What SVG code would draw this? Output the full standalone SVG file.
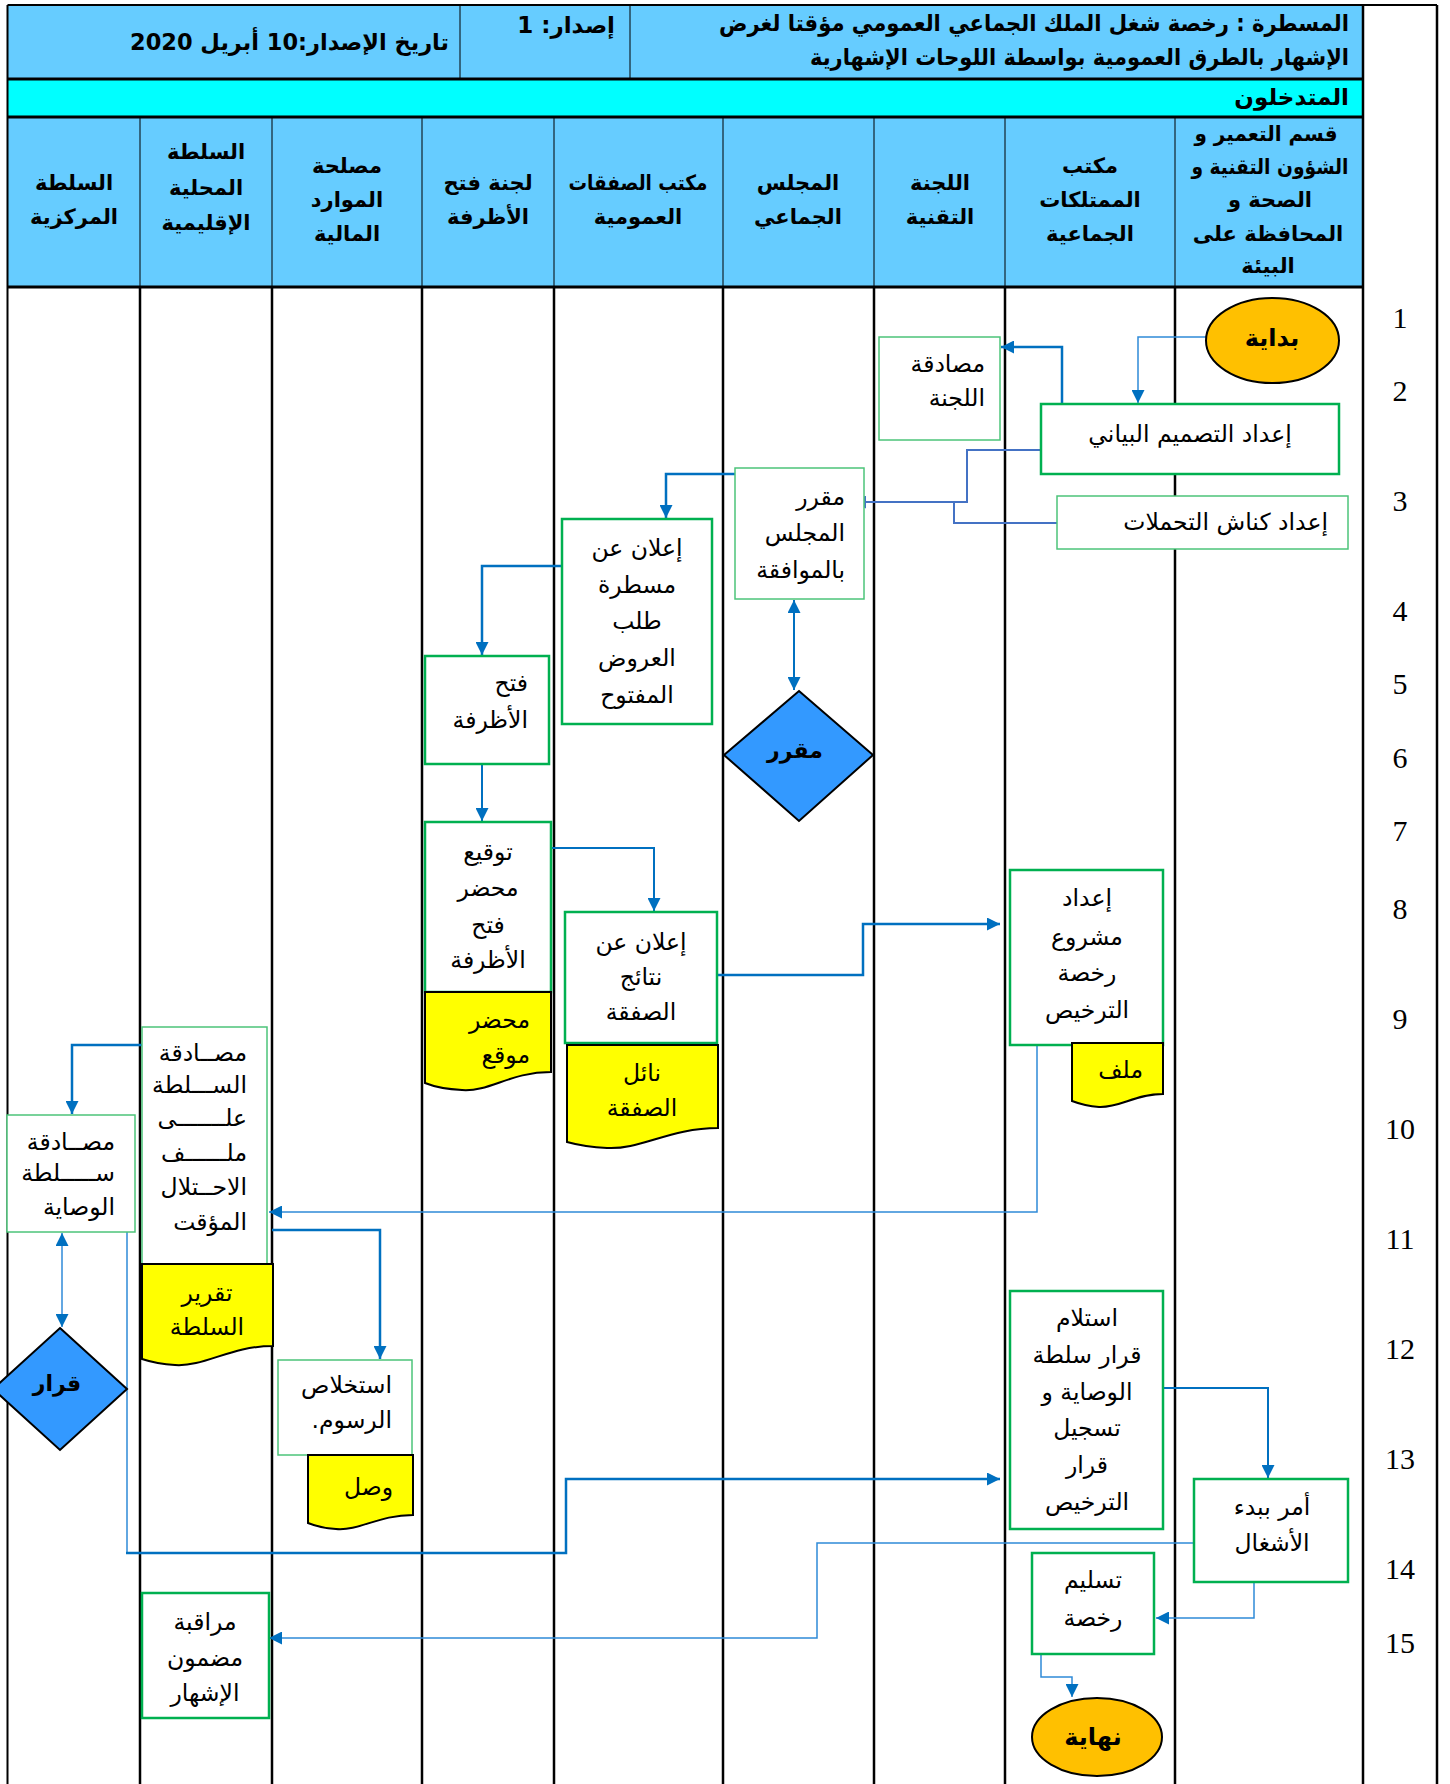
<svg xmlns="http://www.w3.org/2000/svg" width="1450" height="1784" viewBox="0 0 1450 1784">
<defs>
<marker id="ah" viewBox="0 0 10 10" refX="10" refY="5" markerWidth="14" markerHeight="13" markerUnits="userSpaceOnUse" orient="auto-start-reverse"><path d="M0,0 L10,5 L0,10 z" fill="#0070C0"/></marker>
<marker id="ahb" viewBox="0 0 10 10" refX="10" refY="5" markerWidth="14" markerHeight="13" markerUnits="userSpaceOnUse" orient="auto-start-reverse"><path d="M0,0 L10,5 L0,10 z" fill="#4472C4"/></marker>
</defs>
<style>
.ar{font-family:"DejaVu Sans",sans-serif;direction:rtl;dominant-baseline:central;fill:#000}
.hd{font-weight:bold;font-size:21px;text-anchor:middle}
.tx{font-size:23.5px}
.bd{font-weight:bold}
.mid{text-anchor:middle}
.rt{text-anchor:start}
.num{font-family:"Liberation Serif",serif;font-size:30px;text-anchor:middle;dominant-baseline:central}
.bl{stroke:#000;stroke-width:2.5}
.hl{stroke:#000;stroke-width:1}
.bx{fill:#fff;stroke:#00B050;stroke-width:2.5}
.bx2{fill:#fff;stroke:#4CC47A;stroke-width:1.5}
.doc{fill:#FFFF00;stroke:#000;stroke-width:2}
.c{fill:none;stroke:#0070C0;stroke-width:2.5}
.c2{fill:none;stroke:#0070C0;stroke-width:2}
.ct{fill:none;stroke:#2F8AD8;stroke-width:1.5}
.cb{fill:none;stroke:#4472C4;stroke-width:2}
</style>
<rect x="0" y="0" width="1450" height="1784" fill="#fff"/>
<g id="frame">
<rect x="7.5" y="5" width="1355.5" height="74" fill="#66CCFF"/>
<rect x="7.5" y="79" width="1355.5" height="38" fill="#00FFFF"/>
<rect x="7.5" y="117" width="1355.5" height="170" fill="#66CCFF"/>
<line class="bl" x1="7.5" y1="5" x2="1437" y2="5" style="stroke-width:2"/>
<line class="bl" x1="7.5" y1="79" x2="1363" y2="79" style="stroke-width:3"/>
<line class="bl" x1="7.5" y1="117" x2="1363" y2="117" style="stroke-width:3"/>
<line class="bl" x1="7.5" y1="287" x2="1363" y2="287" style="stroke-width:3"/>
<line class="hl" x1="460" y1="5" x2="460" y2="79"/>
<line class="hl" x1="630" y1="5" x2="630" y2="79"/>
<line class="hl" x1="140" y1="117" x2="140" y2="287"/>
<line class="hl" x1="272" y1="117" x2="272" y2="287"/>
<line class="hl" x1="422" y1="117" x2="422" y2="287"/>
<line class="hl" x1="554" y1="117" x2="554" y2="287"/>
<line class="hl" x1="723" y1="117" x2="723" y2="287"/>
<line class="hl" x1="874" y1="117" x2="874" y2="287"/>
<line class="hl" x1="1005" y1="117" x2="1005" y2="287"/>
<line class="hl" x1="1175" y1="117" x2="1175" y2="287"/>
<line class="bl" x1="7.5" y1="5" x2="7.5" y2="1784" style="stroke-width:2"/>
<line class="bl" x1="1363" y1="5" x2="1363" y2="1784"/>
<line class="bl" x1="1437" y1="5" x2="1437" y2="1784"/>
<line class="bl" x1="140" y1="287" x2="140" y2="1784"/>
<line class="bl" x1="272" y1="287" x2="272" y2="1784"/>
<line class="bl" x1="422" y1="287" x2="422" y2="1784"/>
<line class="bl" x1="554" y1="287" x2="554" y2="1784"/>
<line class="bl" x1="723" y1="287" x2="723" y2="1784"/>
<line class="bl" x1="874" y1="287" x2="874" y2="1784"/>
<line class="bl" x1="1005" y1="287" x2="1005" y2="1784"/>
<line class="bl" x1="1175" y1="287" x2="1175" y2="1784"/>
</g>
<g id="title">
<text class="ar bd rt" x="1349" y="23" font-size="23" textLength="630" lengthAdjust="spacingAndGlyphs">المسطرة : رخصة شغل الملك الجماعي العمومي مؤقتا لغرض</text>
<text class="ar bd rt" x="1349" y="57" font-size="23" textLength="539" lengthAdjust="spacingAndGlyphs">الإشهار بالطرق العمومية بواسطة اللوحات الإشهارية</text>
<text class="ar bd rt" x="615" y="25" font-size="23">إصدار: 1</text>
<text class="ar bd rt" x="449" y="42" font-size="23" textLength="319" lengthAdjust="spacingAndGlyphs">تاريخ الإصدار:10 أبريل 2020</text>
<text class="ar bd rt" x="1349" y="97" font-size="23">المتدخلون</text>
</g>
<g id="lanes">
<text class="ar hd" x="74" y="183">السلطة</text><text class="ar hd" x="74" y="217">المركزية</text>
<text class="ar hd" x="206" y="152">السلطة</text><text class="ar hd" x="206" y="188">المحلية</text><text class="ar hd" x="206" y="223">الإقليمية</text>
<text class="ar hd" x="347" y="166">مصلحة</text><text class="ar hd" x="347" y="200">الموارد</text><text class="ar hd" x="347" y="234">المالية</text>
<text class="ar hd" x="488" y="183">لجنة فتح</text><text class="ar hd" x="488" y="217">الأظرفة</text>
<text class="ar hd" x="638" y="183" textLength="139" lengthAdjust="spacingAndGlyphs">مكتب الصفقات</text><text class="ar hd" x="638" y="217">العمومية</text>
<text class="ar hd" x="798" y="183">المجلس</text><text class="ar hd" x="798" y="217">الجماعي</text>
<text class="ar hd" x="940" y="183">اللجنة</text><text class="ar hd" x="940" y="217">التقنية</text>
<text class="ar hd" x="1090" y="166">مكتب</text><text class="ar hd" x="1090" y="200">الممتلكات</text><text class="ar hd" x="1090" y="234">الجماعية</text>
<text class="ar hd" x="1266" y="134" textLength="143" lengthAdjust="spacingAndGlyphs">قسم التعمير و</text><text class="ar hd" x="1270" y="167" textLength="157" lengthAdjust="spacingAndGlyphs">الشؤون التقنية و</text><text class="ar hd" x="1270" y="200">الصحة و</text><text class="ar hd" x="1268" y="234">المحافظة على</text><text class="ar hd" x="1268" y="266">البيئة</text>
</g>
<g id="rows">
<text class="num" x="1400" y="317">1</text>
<text class="num" x="1400" y="390">2</text>
<text class="num" x="1400" y="500">3</text>
<text class="num" x="1400" y="610">4</text>
<text class="num" x="1400" y="683">5</text>
<text class="num" x="1400" y="757">6</text>
<text class="num" x="1400" y="830">7</text>
<text class="num" x="1400" y="908">8</text>
<text class="num" x="1400" y="1018">9</text>
<text class="num" x="1400" y="1128">10</text>
<text class="num" x="1400" y="1238">11</text>
<text class="num" x="1400" y="1348">12</text>
<text class="num" x="1400" y="1458">13</text>
<text class="num" x="1400" y="1568">14</text>
<text class="num" x="1400" y="1642">15</text>
</g>
<g id="connectors">
<path class="ct" d="M1206,337 H1138 V403" marker-end="url(#ah)"/>
<path class="c" d="M1062,404 V347 H1001" marker-end="url(#ah)"/>
<path class="cb" d="M1041,450 H967 V502 H853" marker-end="url(#ahb)"/>
<path class="cb" d="M1057,523 H954 V502"/>
<path class="c" d="M735,474 H666 V518" marker-end="url(#ah)"/>
<path class="c2" d="M794,600 V690" marker-start="url(#ah)" marker-end="url(#ah)"/>
<path class="c" d="M562,566 H482 V655" marker-end="url(#ah)"/>
<path class="c2" d="M482,764 V821" marker-end="url(#ah)"/>
<path class="c2" d="M551,848 H654 V911" marker-end="url(#ah)"/>
<path class="c" d="M717,975 H863 V924 H1000" marker-end="url(#ah)"/>
<path class="ct" d="M1037,1045 V1212 H269" marker-end="url(#ah)"/>
<path class="c" d="M142,1045 H72 V1114" marker-end="url(#ah)"/>
<path class="ct" d="M62,1233 V1327" marker-start="url(#ah)" marker-end="url(#ah)"/>
<path class="c" d="M272,1230 H380 V1359" marker-end="url(#ah)"/>
<path class="ct" d="M127,1230 V1553 H566"/>
<path class="c" d="M126,1553 H566 V1479 H1000" marker-end="url(#ah)"/>
<path class="c2" d="M1163,1388 H1268 V1478" marker-end="url(#ah)"/>
<path class="ct" d="M1194,1543 H817 V1638 H269" marker-end="url(#ah)"/>
<path class="ct" d="M1254,1582 V1618 H1156" marker-end="url(#ah)"/>
<path class="ct" d="M1041,1654 V1677 H1072 V1697" marker-end="url(#ah)"/>
</g>
<g id="n-start">
<ellipse cx="1272.5" cy="340.5" rx="66.5" ry="42.5" fill="#FFC000" stroke="#000" stroke-width="2"/>
<text class="ar bd mid" x="1272" y="338" font-size="24">بداية</text>
</g>
<g id="n-design">
<rect class="bx" x="1041" y="404" width="298" height="70"/>
<text class="ar tx mid" x="1190" y="434">إعداد التصميم البياني</text>
</g>
<g id="n-kanash">
<rect class="bx2" x="1057" y="496" width="291" height="53"/>
<text class="ar tx rt" x="1328" y="522">إعداد كناش التحملات</text>
</g>
<g id="n-lajna">
<rect class="bx2" x="879" y="337" width="121" height="103"/>
<text class="ar tx rt" x="985" y="364">مصادقة</text>
<text class="ar tx rt" x="985" y="398">اللجنة</text>
</g>
<g id="n-majlis">
<rect class="bx2" x="735" y="468" width="129" height="131"/>
<text class="ar tx rt" x="845" y="497">مقرر</text>
<text class="ar tx rt" x="845" y="533">المجلس</text>
<text class="ar tx rt" x="845" y="570">بالموافقة</text>
</g>
<g id="n-moqarrar">
<polygon points="799,691 873,755 799,821 724,755" fill="#3399FF" stroke="#000" stroke-width="2"/>
<text class="ar bd mid" x="795" y="750" font-size="22">مقرر</text>
</g>
<g id="n-ilan">
<rect class="bx" x="562" y="519" width="150" height="205"/>
<text class="ar tx mid" x="637" y="548">إعلان عن</text>
<text class="ar tx mid" x="637" y="585">مسطرة</text>
<text class="ar tx mid" x="637" y="621">طلب</text>
<text class="ar tx mid" x="637" y="658">العروض</text>
<text class="ar tx mid" x="637" y="695">المفتوح</text>
</g>
<g id="n-fath">
<rect class="bx" x="425" y="656" width="124" height="108"/>
<text class="ar tx rt" x="528" y="683">فتح</text>
<text class="ar tx rt" x="528" y="720">الأظرفة</text>
</g>
<g id="n-tawqi">
<rect class="bx" x="425" y="822" width="126" height="170"/>
<text class="ar tx mid" x="488" y="852">توقيع</text>
<text class="ar tx mid" x="488" y="888">محضر</text>
<text class="ar tx mid" x="488" y="925">فتح</text>
<text class="ar tx mid" x="488" y="960">الأظرفة</text>
</g>
<g id="d-mahdar">
<path class="doc" d="M425,992 H551 V1072 C510,1072 490,1092 462,1090 Q440,1089 425,1083 Z"/>
<text class="ar tx rt" x="530" y="1020">محضر</text>
<text class="ar tx rt" x="530" y="1055">موقع</text>
</g>
<g id="n-nataij">
<rect class="bx" x="565" y="912" width="152" height="131"/>
<text class="ar tx mid" x="641" y="942">إعلان عن</text>
<text class="ar tx mid" x="641" y="977">نتائج</text>
<text class="ar tx mid" x="641" y="1012">الصفقة</text>
</g>
<g id="d-nail">
<path class="doc" d="M567,1045 H718 V1128 C670,1128 640,1150 607,1148 Q585,1147 567,1142 Z"/>
<text class="ar tx mid" x="642" y="1073">نائل</text>
<text class="ar tx mid" x="642" y="1108">الصفقة</text>
</g>
<g id="n-mashrou">
<rect class="bx" x="1010" y="870" width="153" height="175"/>
<text class="ar tx mid" x="1087" y="898">إعداد</text>
<text class="ar tx mid" x="1087" y="937">مشروع</text>
<text class="ar tx mid" x="1087" y="973">رخصة</text>
<text class="ar tx mid" x="1087" y="1010">الترخيص</text>
</g>
<g id="d-milaf">
<path class="doc" d="M1072,1043 H1163 V1094 C1135,1094 1120,1108 1099,1107 Q1085,1106 1072,1101 Z"/>
<text class="ar tx rt" x="1143" y="1070">ملف</text>
</g>
<g id="n-sulta">
<rect class="bx2" x="142" y="1027" width="125" height="237"/>
<text class="ar tx rt" x="247" y="1053">مصــادقة</text>
<text class="ar tx rt" x="247" y="1085">الســـلطة</text>
<text class="ar tx rt" x="247" y="1118">علـــــــى</text>
<text class="ar tx rt" x="247" y="1153">ملــــــف</text>
<text class="ar tx rt" x="247" y="1187">الاحــتلال</text>
<text class="ar tx rt" x="247" y="1222">المؤقت</text>
</g>
<g id="d-taqrir">
<path class="doc" d="M142,1264 H273 V1346 C230,1346 205,1367 175,1365 Q157,1364 142,1359 Z"/>
<text class="ar tx mid" x="207" y="1293">تقرير</text>
<text class="ar tx mid" x="207" y="1327">السلطة</text>
</g>
<g id="n-wisaya">
<rect class="bx2" x="7" y="1115" width="128" height="117"/>
<text class="ar tx rt" x="115" y="1142">مصــادقة</text>
<text class="ar tx rt" x="115" y="1173">ســـــلطة</text>
<text class="ar tx rt" x="115" y="1207">الوصاية</text>
</g>
<g id="n-qarar">
<polygon points="60,1328 127,1389 60,1450 -7,1389" fill="#3399FF" stroke="#000" stroke-width="2"/>
<text class="ar bd mid" x="57" y="1383" font-size="22">قرار</text>
</g>
<g id="n-istikhlas">
<rect class="bx2" x="278" y="1360" width="134" height="95"/>
<text class="ar tx rt" x="392" y="1385">استخلاص</text>
<text class="ar tx rt" x="392" y="1420">الرسوم.</text>
</g>
<g id="d-wasl">
<path class="doc" d="M308,1455 H413 V1515 C378,1515 360,1531 336,1529 Q320,1528 308,1523 Z"/>
<text class="ar tx rt" x="393" y="1487">وصل</text>
</g>
<g id="n-muraqaba">
<rect class="bx" x="142" y="1593" width="127" height="125"/>
<text class="ar tx mid" x="205" y="1622">مراقبة</text>
<text class="ar tx mid" x="205" y="1658">مضمون</text>
<text class="ar tx mid" x="205" y="1693">الإشهار</text>
</g>
<g id="n-istilam">
<rect class="bx" x="1010" y="1291" width="153" height="238"/>
<text class="ar tx mid" x="1087" y="1318">استلام</text>
<text class="ar tx mid" x="1087" y="1355">قرار سلطة</text>
<text class="ar tx mid" x="1087" y="1392">الوصاية  و</text>
<text class="ar tx mid" x="1087" y="1428">تسجيل</text>
<text class="ar tx mid" x="1087" y="1465">قرار</text>
<text class="ar tx mid" x="1087" y="1502">الترخيص</text>
</g>
<g id="n-amr">
<rect class="bx" x="1194" y="1479" width="154" height="103"/>
<text class="ar tx mid" x="1272" y="1507">أمر ببدء</text>
<text class="ar tx mid" x="1272" y="1543">الأشغال</text>
</g>
<g id="n-taslim">
<rect class="bx" x="1032" y="1553" width="122" height="101"/>
<text class="ar tx mid" x="1093" y="1580">تسليم</text>
<text class="ar tx mid" x="1093" y="1618">رخصة</text>
</g>
<g id="n-end">
<ellipse cx="1097" cy="1737" rx="65" ry="39" fill="#FFC000" stroke="#000" stroke-width="2"/>
<text class="ar bd mid" x="1093" y="1737" font-size="24">نهاية</text>
</g>
</svg>
